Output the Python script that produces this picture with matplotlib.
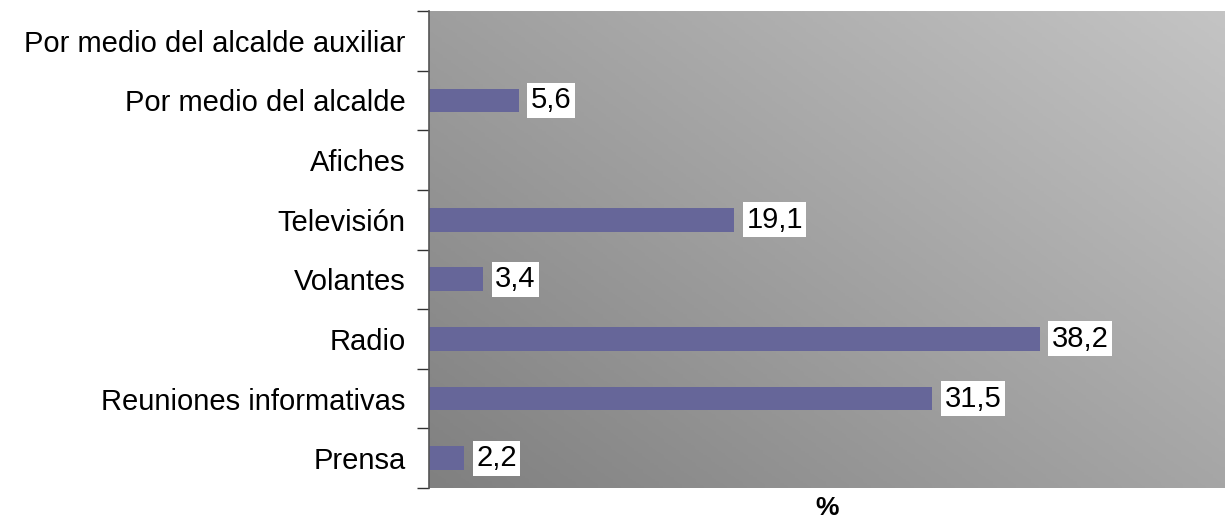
import matplotlib
matplotlib.use("Agg")
import matplotlib.pyplot as plt
import numpy as np

categories = ["Prensa", "Reuniones informativas", "Radio", "Volantes",
              "Televisión", "Afiches", "Por medio del alcalde",
              "Por medio del alcalde auxiliar"]
values = [2.2, 31.5, 38.2, 3.4, 19.1, None, 5.6, None]
value_labels = ["2,2", "31,5", "38,2", "3,4", "19,1", "", "5,6", ""]

plt.rcParams['font.family'] = ['Liberation Sans', 'DejaVu Sans']

fig = plt.figure(figsize=(12.25, 5.25), dpi=100)
ax = fig.add_axes([429/1225, 1-488/525, (1225-429)/1225, (488-11)/525])

n = len(categories)
ax.set_xlim(0, 49.8)
ax.set_ylim(-0.5, n-0.5)

# gradient background
gx, gy = np.meshgrid(np.linspace(0, 1, 200), np.linspace(0, 1, 200))
g = (gx*0.75 + gy*0.6) / 1.35
ax.imshow(g, extent=[0, 49.8, -0.5, n-0.5], origin='lower', aspect='auto',
          cmap=matplotlib.colors.LinearSegmentedColormap.from_list('g', ['#808080', '#c4c4c4']),
          vmin=0, vmax=1, zorder=0)

ypos = np.arange(n)
for y, v, lab in zip(ypos, values, value_labels):
    if v is None:
        continue
    ax.barh(y, v, height=0.4, color='#666699', zorder=2)
    ax.annotate(lab, xy=(v, y), xytext=(12, 0), textcoords='offset pixels',
                va='center', ha='left', fontsize=21,
                bbox=dict(facecolor='white', edgecolor='none', pad=2.5), zorder=3)

ax.set_yticks(ypos)
ax.set_yticklabels(categories, fontsize=21)
ax.set_yticks(np.arange(-0.5, n, 1), minor=True)
ax.tick_params(axis='y', which='major', length=0, pad=17)
ax.tick_params(axis='y', which='minor', length=9, width=1, color='#333333', direction='out')
ax.set_xticks([])
for s in ['top', 'right', 'bottom']:
    ax.spines[s].set_visible(False)
ax.spines['left'].set_color('#555555')
ax.spines['left'].set_linewidth(1.2)

ax.set_xlabel('%', fontsize=19, fontweight='bold', labelpad=6)

fig.savefig('out.png', dpi=100)
